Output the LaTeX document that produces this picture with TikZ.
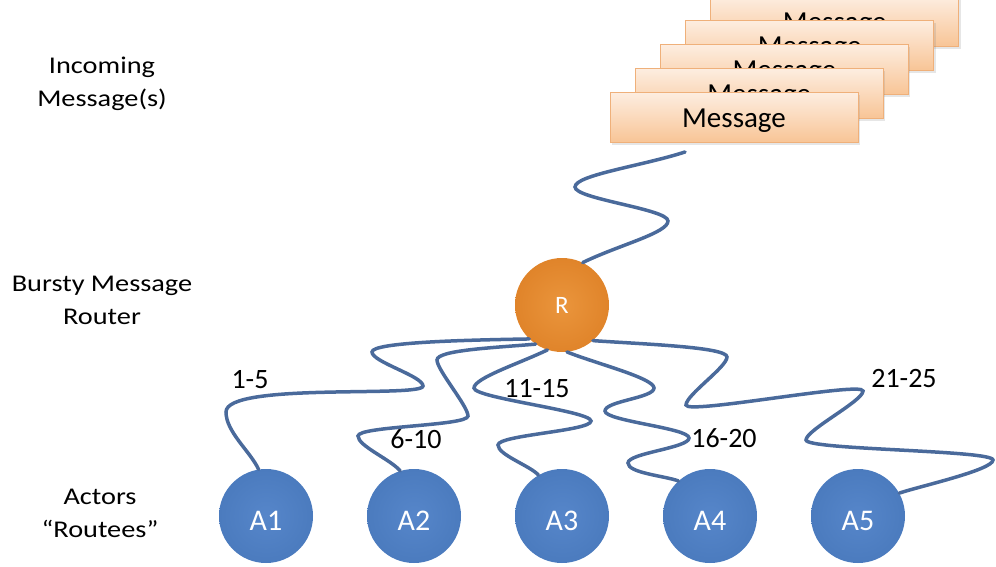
\documentclass[tikz,border=0pt]{standalone}
\usepackage{fontspec}
\setmainfont{Carlito}
\newfontfamily\widefont[FakeStretch=1.18]{Carlito}
\usetikzlibrary{shadows}
\definecolor{wirecol}{HTML}{4A6A9B}
\definecolor{actcol}{HTML}{4B7BBE}
\definecolor{actlight}{HTML}{5686CA}
\definecolor{rcol}{HTML}{E0842A}
\definecolor{rlight}{HTML}{EA953C}
\definecolor{msgtop}{HTML}{FDEDE0}
\definecolor{msgbot}{HTML}{F8C495}
\definecolor{msgline}{HTML}{EFB07A}

\begin{document}
\begin{tikzpicture}[
  x=1pt, y=1pt,
  lbl/.style={font=\widefont\fontsize{24}{33}\selectfont, align=center, inner sep=0pt},
  rng/.style={font=\fontsize{28}{30}\selectfont, inner sep=0pt},
  msgbox/.style={rectangle, draw=msgline, line width=1pt, top color=msgtop, bottom color=msgbot,
    minimum width=248pt, minimum height=50pt, text depth=0pt,
    font=\fontsize{29}{30}\selectfont,
    drop shadow={opacity=0.2, shadow xshift=2pt, shadow yshift=-2pt}},
  actor/.style={circle, minimum size=94pt, inner sep=0pt, inner color=actlight, outer color=actcol,
    text=white, text height=29pt, text depth=0pt, font=\fontsize{30}{32}\selectfont},
  router/.style={circle, minimum size=94pt, inner sep=0pt, inner color=rlight, outer color=rcol,
    text=white, text depth=0pt, font=\fontsize{25}{27}\selectfont},
  wire/.style={draw=wirecol, line width=3.5pt, line cap=round}
]
\useasboundingbox (0,0) rectangle (996,566);

% left column
\node[lbl] (inc) at (102,482) {Incoming\\Message(s)};
\node[lbl] (bmr) at (102,266) {Bursty Message\\Router};
\node[lbl] (act) at (100,52.5) {Actors\\“Routees”};

% stack of messages, back to front
\foreach \i in {5,4,...,1}
  \node[msgbox] (msg\i) at ({734+25.2*(\i-1)},{448+24*(\i-1)}) {Message};
\coordinate (mtail) at (685,414);

% router and routees
\node[router] (R) at (562,261) {R};
\foreach \i in {1,...,5}
  \node[actor] (A\i) at ({266+148*(\i-1)},50) {A\i};

% wires
\draw[wire] (mtail) to[out=198,in=90,out distance=45pt,in distance=12pt] (575,379)
  to[out=-90,in=90,distance=12pt] (668,345)
  to[out=-90,in=26,out distance=12pt,in distance=40pt] (R.64);
\draw[wire] (R.226) to[out=181,in=90,out distance=60pt,in distance=10pt] (372,214)
  to[out=-90,in=90,distance=10pt] (423,180)
  to[out=-90,in=90,out distance=12pt,in distance=30pt] (226,154)
  to[out=-90,in=115,out distance=20pt,in distance=20pt] (A1.99);
\draw[wire] (R.236) to[out=185,in=90,out distance=40pt,in distance=10pt] (437,206)
  to[out=-90,in=90,distance=10pt] (468,150)
  to[out=-90,in=90,distance=10pt] (358,130)
  to[out=-90,in=130,out distance=10pt,in distance=15pt] (A2.107);
\draw[wire] (R.252) to[out=206,in=90,out distance=30pt,in distance=10pt] (474,178)
  to[out=-90,in=90,distance=10pt] (591,145)
  to[out=-90,in=90,distance=10pt] (498,121)
  to[out=-90,in=130,out distance=10pt,in distance=12pt] (A3.120);
\draw[wire] (R.276) to[out=-22,in=90,out distance=30pt,in distance=10pt] (654,178)
  to[out=-90,in=90,distance=10pt] (605,155)
  to[out=-90,in=90,distance=10pt] (689,128)
  to[out=-90,in=90,distance=10pt] (628,103)
  to[out=-90,in=160,out distance=10pt,in distance=15pt] (A4.132);
\draw[wire] (R.311) to[out=-4,in=90,out distance=50pt,in distance=10pt] (727,209)
  to[out=-90,in=90,distance=10pt] (686,161)
  to[out=-90,in=90,distance=10pt] (863,175)
  to[out=-90,in=90,distance=10pt] (806,126)
  to[out=-90,in=90,distance=10pt] (993,106)
  to[out=-90,in=19,out distance=10pt,in distance=20pt] (A5.29);

% ranges
\node[rng] (r1) at (250,186) {1-5};
\node[rng] (r2) at (416,127) {6-10};
\node[rng] (r3) at (537,177) {11-15};
\node[rng] (r4) at (724,128) {16-20};
\node[rng] (r5) at (904,187) {21-25};
\end{tikzpicture}
\end{document}
